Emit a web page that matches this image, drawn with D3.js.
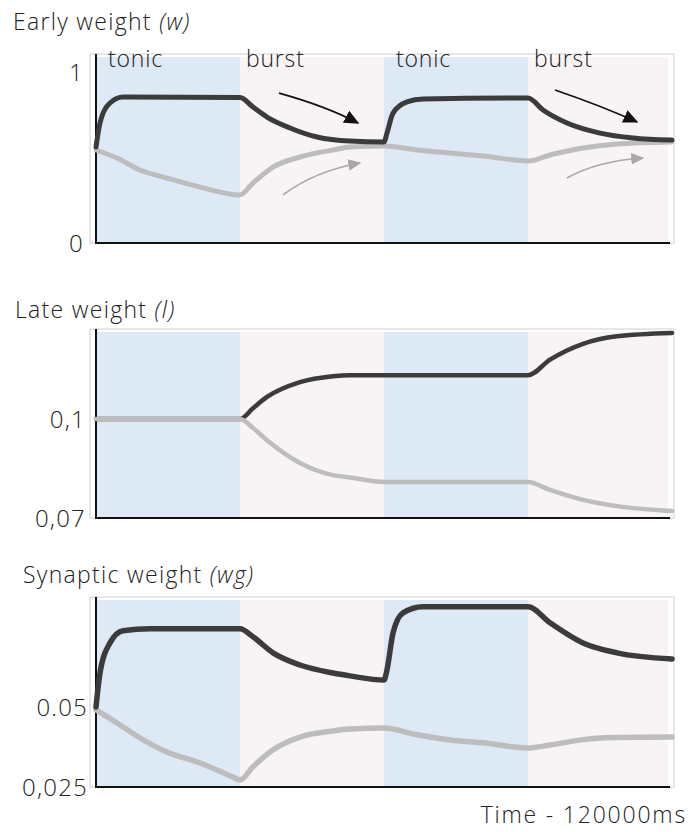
<!DOCTYPE html>
<html>
<head>
<meta charset="utf-8">
<script src="https://cdn.jsdelivr.net/npm/d3@7"></script>
<style>
  html, body { margin: 0; padding: 0; background: #fff; }
  svg { display: block; }
  text { font-family: "Open Sans", "Lato", sans-serif; font-weight: 300; fill: #222; }
</style>
</head>
<body>
<svg id="chart" width="699" height="832"></svg>
<script>
// Simulation phases (ms)
const phases = [
  { start: 0,     end: 30000,  kind: "tonic" },
  { start: 30000, end: 60000,  kind: "burst" },
  { start: 60000, end: 90000,  kind: "tonic" },
  { start: 90000, end: 120000, kind: "burst" }
];

// Early weight (w)
const wTime  = [0, 833, 2917, 5625, 30000, 32708, 35625, 40417, 46042, 52917, 60000, 60625, 61875, 64792, 68125, 90000, 93125, 98125, 105000, 111875, 120000];
const wDark  = [0.561, 0.702, 0.819, 0.854, 0.851, 0.795, 0.737, 0.673, 0.620, 0.596, 0.591, 0.643, 0.760, 0.825, 0.842, 0.848, 0.778, 0.702, 0.643, 0.614, 0.602];
const wTimeG = [0, 4375, 9167, 14792, 21667, 30000, 32708, 36875, 42500, 49375, 52917, 60000, 66875, 73750, 80625, 90000, 94583, 101458, 108542, 120000];
const wGrey  = [0.544, 0.497, 0.427, 0.380, 0.327, 0.281, 0.351, 0.444, 0.503, 0.544, 0.561, 0.567, 0.544, 0.526, 0.509, 0.480, 0.515, 0.556, 0.579, 0.591];

// Late weight (l)
const lTime  = [0, 30000, 32708, 35625, 42500, 49375, 52917, 60000, 90000, 94583, 101458, 108542, 120000];
const lDark  = [0.1, 0.1, 0.1033, 0.1067, 0.1112, 0.1130, 0.1133, 0.1133, 0.1133, 0.1180, 0.1228, 0.1251, 0.1261];
const lGrey  = [0.1, 0.1, 0.0973, 0.0936, 0.0867, 0.0830, 0.0823, 0.0809, 0.0809, 0.0785, 0.0755, 0.0736, 0.0721];

// Synaptic weight (wg)
const gTime  = [0, 833, 2917, 5625, 11250, 30000, 32708, 36875, 42500, 49375, 52917, 60000, 60625, 61875, 63958, 68125, 90000, 94583, 101458, 108542, 120000];
const gDark  = [0.0500, 0.0606, 0.0700, 0.0738, 0.0744, 0.0744, 0.0719, 0.0669, 0.0631, 0.0606, 0.0597, 0.0584, 0.0616, 0.0731, 0.0794, 0.0813, 0.0813, 0.0763, 0.0700, 0.0669, 0.0650];
const gTimeG = [0, 4375, 9167, 14792, 21667, 28542, 30000, 32708, 36875, 42500, 49375, 52917, 60000, 66875, 73750, 80625, 90000, 94583, 101458, 106000, 120000];
const gGrey  = [0.0491, 0.0450, 0.0403, 0.0359, 0.0325, 0.0281, 0.0272, 0.0313, 0.0366, 0.0406, 0.0425, 0.0431, 0.0434, 0.0413, 0.0397, 0.0388, 0.0372, 0.0381, 0.0398, 0.0404, 0.0406];

// Tick values and labels
const wTicks = [0, 1],         wTickLabels = ["0", "1"];
const lTicks = [0.07, 0.1],    lTickLabels = ["0,07", "0,1"];
const gTicks = [0.025, 0.05],  gTickLabels = ["0,025", "0.05"];

// Trend arrows for the early-weight panel: [t0, v0, tc, vc, t1, v1]
const darkArrows = [[38125, 0.877, 48000, 0.80, 54583, 0.702], [95625, 0.895, 105500, 0.80, 112708, 0.708]];
const greyArrows = [[38958, 0.281, 45500, 0.42, 55000, 0.468], [98125, 0.380, 104500, 0.48, 113958, 0.497]];

const svg = d3.select("#chart");
const x = d3.scaleLinear().domain([0, 120000]).range([96, 672]);

const COL_DARK = "#3b3b3b", COL_GREY = "#bdbdbd";
const FILL = { tonic: "#dde9f5", burst: "#f8f3f5" };

// arrow markers
const defs = svg.append("defs");
[["arrDark", "#111", 15], ["arrGrey", "#a8a8a8", 13]].forEach(([id, c, s]) => {
  defs.append("marker").attr("id", id)
    .attr("viewBox", "0 0 10 10").attr("refX", 9).attr("refY", 5)
    .attr("markerWidth", s).attr("markerHeight", s)
    .attr("markerUnits", "userSpaceOnUse")
    .attr("orient", "auto")
    .append("path").attr("d", "M0,0.5 L10,5 L0,9.5 Z").attr("fill", c);
});

function panel(cfg) {
  const y = d3.scaleLinear().domain(cfg.domain).range([cfg.bottom, cfg.top]);
  const g = svg.append("g");

  // title
  const title = g.append("text").attr("x", cfg.titleX).attr("y", cfg.titleY)
    .attr("font-size", 23).attr("letter-spacing", 1.3);
  title.append("tspan").text(cfg.title + "  ");
  title.append("tspan").attr("font-style", "italic").text(cfg.sym);

  // frame
  g.append("rect")
    .attr("x", x.range()[0] - 6).attr("y", cfg.top - 3)
    .attr("width", x.range()[1] - x.range()[0] + 8)
    .attr("height", cfg.bottom - cfg.top + 3)
    .attr("fill", "none").attr("stroke", "#cfcfcf").attr("stroke-width", 1);

  // phase backgrounds
  g.selectAll("rect.phase").data(phases).join("rect")
    .attr("class", "phase")
    .attr("x", d => x(d.start))
    .attr("y", cfg.top)
    .attr("width", d => x(d.end) - x(d.start) - (d.end === 120000 ? 4 : 0))
    .attr("height", cfg.bottom - cfg.top)
    .attr("fill", d => FILL[d.kind]);

  // axes lines
  g.append("line").attr("x1", x(0)).attr("x2", x(0))
    .attr("y1", cfg.top - 3).attr("y2", cfg.bottom + 1)
    .attr("stroke", "#111").attr("stroke-width", 2);
  g.append("line").attr("x1", x(0)).attr("x2", x(120000) - 2)
    .attr("y1", cfg.bottom).attr("y2", cfg.bottom)
    .attr("stroke", "#111").attr("stroke-width", 2);

  // tick labels
  g.selectAll("text.tick").data(cfg.ticks).join("text")
    .attr("class", "tick")
    .attr("x", cfg.tickX)
    .attr("y", d => y(d))
    .attr("dy", "0.36em")
    .attr("text-anchor", "end")
    .attr("font-size", 24)
    .attr("letter-spacing", 1.2)
    .text((d, i) => cfg.tickLabels[i]);

  // lines
  const line = d3.line().x(d => x(d[0])).y(d => y(d[1])).curve(d3.curveMonotoneX);
  const series = [
    { t: cfg.tGrey, v: cfg.grey, c: COL_GREY },
    { t: cfg.tDark, v: cfg.dark, c: COL_DARK }
  ];
  if (cfg.greyOnTop) series.reverse();
  series.forEach(s => {
    g.append("path").datum(d3.zip(s.t, s.v))
      .attr("d", line).attr("fill", "none")
      .attr("stroke", s.c).attr("stroke-width", cfg.width)
      .attr("stroke-linejoin", "round").attr("stroke-linecap", "round");
  });

  return { g, y };
}

// Early weight
const p1 = panel({
  title: "Early weight", sym: "(w)", titleX: 13, titleY: 30,
  domain: [0, 1.088], top: 57, bottom: 243,
  ticks: wTicks, tickLabels: wTickLabels, tickX: 84,
  tDark: wTime, dark: wDark, tGrey: wTimeG, grey: wGrey, width: 5
});

// phase labels
p1.g.selectAll("text.phaselabel").data(phases).join("text")
  .attr("class", "phaselabel")
  .attr("x", d => x(d.start) + (d.kind === "tonic" ? 12 : 6))
  .attr("y", 67)
  .attr("font-size", 23)
  .attr("letter-spacing", 0.8)
  .text(d => d.kind);

// trend arrows
const arrowPath = a => `M${x(a[0])},${p1.y(a[1])} Q${x(a[2])},${p1.y(a[3])} ${x(a[4])},${p1.y(a[5])}`;
p1.g.selectAll("path.darr").data(darkArrows).join("path")
  .attr("class", "darr").attr("d", arrowPath)
  .attr("fill", "none").attr("stroke", "#111").attr("stroke-width", 1.8)
  .attr("marker-end", "url(#arrDark)");
p1.g.selectAll("path.garr").data(greyArrows).join("path")
  .attr("class", "garr").attr("d", arrowPath)
  .attr("fill", "none").attr("stroke", "#a8a8a8").attr("stroke-width", 1.6)
  .attr("marker-end", "url(#arrGrey)");

// Late weight
panel({
  title: "Late weight", sym: "(l)", titleX: 15, titleY: 318,
  domain: [0.07, 0.1264], top: 332, bottom: 518,
  ticks: lTicks, tickLabels: lTickLabels, tickX: 86,
  tDark: lTime, dark: lDark, tGrey: lTime, grey: lGrey, width: 4.5, greyOnTop: true
});

// Synaptic weight
panel({
  title: "Synaptic weight", sym: "(wg)", titleX: 23, titleY: 583,
  domain: [0.025, 0.0834], top: 600, bottom: 787,
  ticks: gTicks, tickLabels: gTickLabels, tickX: 88,
  tDark: gTime, dark: gDark, tGrey: gTimeG, grey: gGrey, width: 5.5
});

// time axis caption
svg.append("text")
  .attr("x", 687).attr("y", 823)
  .attr("text-anchor", "end")
  .attr("font-size", 23)
  .attr("letter-spacing", 1.8)
  .text("Time - 120000ms");
</script>
</body>
</html>
